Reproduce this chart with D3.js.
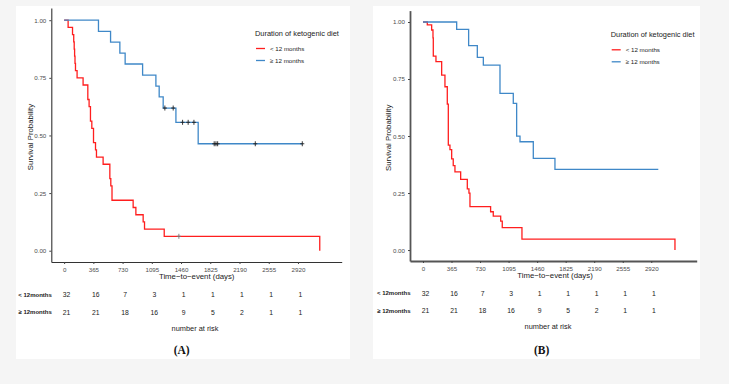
<!DOCTYPE html>
<html>
<head>
<meta charset="utf-8">
<script src="https://cdn.jsdelivr.net/npm/d3@7"></script>
<style>
  body { margin: 0; background: #f5f5f5; }
  svg { display: block; font-family: "Liberation Sans", Arial, sans-serif; }
</style>
</head>
<body>
<div id="chart"></div>
<script>
// groups and risk table
const groupNames = ["< 12 months", "\u2265 12 months"];
const riskRowNames = ["< 12months", "\u2265 12months"];
const riskTimes = [0, 365, 730, 1095, 1460, 1825, 2190, 2555, 2920];
const yTicks = [0, 0.25, 0.5, 0.75, 1];

const riskA_short = [32, 16, 7, 3, 1, 1, 1, 1, 1];
const riskA_long = [21, 21, 18, 16, 9, 5, 2, 1, 1];
const riskB_short = [32, 16, 7, 3, 1, 1, 1, 1, 1];
const riskB_long = [21, 21, 18, 16, 9, 5, 2, 1, 1];

// KM steps [day, survival]
const curveA_short = [[0,1],[50,0.969],[105,0.9375],[120,0.906],[126,0.875],[131,0.844],[136,0.8125],[142,0.781],
  [162,0.75],[237,0.719],[296,0.656],[312,0.625],[329,0.5625],[346,0.531],[367,0.469],[392,0.4375],[404,0.406],
  [487,0.375],[571,0.3125],[583,0.281],[598,0.219],[862,0.1875],[896,0.156],[987,0.125],[1004,0.094],
  [1250,0.0625],[3192,0]];
const curveA_long = [[0,1],[429,0.952],[580,0.905],[696,0.857],[762,0.81],[980,0.762],[1146,0.714],[1187,0.667],
  [1237,0.619],[1396,0.557],[1674,0.464],[2974,0.464]];
const censorA_short = [1433];
const censorA_long = [1258, 1362, 1479, 1549, 1621, 1874, 1896, 1917, 2387, 2974];

const curveB_short = [[0,1],[55,0.987],[111,0.965],[128,0.93],[132,0.85],[166,0.826],[239,0.767],[281,0.716],
  [311,0.64],[324,0.46],[345,0.44],[367,0.40],[387,0.37],[409,0.343],[482,0.31],[567,0.268],[588,0.25],
  [601,0.19],[865,0.168],[899,0.149],[994,0.127],[1014,0.098],[1266,0.048],[3223,0]];
const curveB_long = [[0,1],[431,0.968],[584,0.896],[695,0.845],[772,0.811],[985,0.687],[1155,0.643],[1198,0.5],
  [1241,0.475],[1411,0.402],[1688,0.354],[3010,0.354]];

const colors = ["#ff1e1e", "#3f88c8"];

const svg = d3.select("#chart").append("svg")
  .attr("width", 729)
  .attr("height", 384);

svg.append("rect").attr("width", 729).attr("height", 384).attr("fill", "#f5f5f5");

function survAt(curve, t) {
  let s = 1;
  curve.forEach(function(d) { if (d[0] <= t) s = d[1]; });
  return s;
}

function drawPanel(p) {
  svg.append("rect")
    .attr("x", p.box[0]).attr("y", p.box[1])
    .attr("width", p.box[2]).attr("height", p.box[3])
    .attr("fill", "white");

  const x = d3.scaleLinear().domain(p.xDom).range(p.xRange);
  const y = d3.scaleLinear().domain(p.yDom).range(p.yRange);

  const g = svg.append("g");

  const line = d3.line()
    .x(function(d) { return x(d[0]); })
    .y(function(d) { return y(d[1]); })
    .curve(d3.curveStepAfter);

  p.curves.forEach(function(c, i) {
    g.append("path")
      .datum(c)
      .attr("fill", "none")
      .attr("stroke", colors[i])
      .attr("stroke-width", 1.3)
      .attr("d", line);
  });

  // censor marks
  p.censors.forEach(function(cs, i) {
    cs.forEach(function(t) {
      const s = survAt(p.curves[i], t);
      const col = i == 0 ? "#777" : "#222";
      g.append("line")
        .attr("x1", x(t)).attr("x2", x(t))
        .attr("y1", y(s) - 2.5).attr("y2", y(s) + 2.5)
        .attr("stroke", col)
        .attr("stroke-width", 0.9);
      g.append("line")
        .attr("x1", x(t) - 2).attr("x2", x(t) + 2)
        .attr("y1", y(s)).attr("y2", y(s))
        .attr("stroke", col)
        .attr("stroke-width", 0.9);
    });
  });

  const xAxis = g.append("g")
    .attr("transform", `translate(0,${p.yRange[0]})`)
    .call(d3.axisBottom(x).tickValues(riskTimes).tickFormat(d3.format("d")).tickSize(2).tickSizeOuter(0));
  const yAxis = g.append("g")
    .attr("transform", `translate(${p.xRange[0]},0)`)
    .call(d3.axisLeft(y).tickValues(yTicks).tickFormat(d3.format(".2f")).tickSize(2).tickSizeOuter(0));

  [xAxis, yAxis].forEach(function(a) {
    a.select(".domain").attr("stroke", p.axisColor).attr("stroke-width", p.axisWidth);
    a.selectAll(".tick line").attr("stroke", "#444");
    a.selectAll(".tick text")
      .attr("fill", "#4d4d4d")
      .style("font-size", "6.2px")
      .style("font-family", "Liberation Sans, Arial, sans-serif");
  });
  xAxis.selectAll(".tick text").attr("dy", "0.85em");

  // axis titles
  g.append("text")
    .attr("transform", `translate(${p.yTitleX},${(p.yRange[0] + p.yRange[1]) / 2 + 2}) rotate(-90)`)
    .attr("text-anchor", "middle")
    .style("font-size", "7.8px")
    .attr("fill", "#1a1a1a")
    .text("Survival Probability");

  g.append("text")
    .attr("x", p.xTitle[0]).attr("y", p.xTitle[1])
    .attr("text-anchor", "middle")
    .style("font-size", "7.8px")
    .attr("fill", "#1a1a1a")
    .text("Time\u2212to\u2212event (days)");

  // legend
  g.append("text")
    .attr("x", p.legend[0]).attr("y", p.legend[1])
    .style("font-size", "7.4px")
    .attr("fill", "#1a1a1a")
    .text("Duration of ketogenic diet");
  groupNames.forEach(function(name, i) {
    const ly = p.legend[1] + 12.5 + i * 12;
    g.append("line")
      .attr("x1", p.legend[0] + 1).attr("x2", p.legend[0] + 10)
      .attr("y1", ly).attr("y2", ly)
      .attr("stroke", colors[i]).attr("stroke-width", 1.3);
    g.append("text")
      .attr("x", p.legend[0] + 15).attr("y", ly + 2)
      .style("font-size", "6.2px")
      .attr("fill", "#1a1a1a")
      .text(name);
  });

  // risk table
  p.risks.forEach(function(row, i) {
    const ry = p.riskY[i];
    g.append("text")
      .attr("x", p.xRange[0] + 0.5).attr("y", ry + 2)
      .attr("text-anchor", "end")
      .style("font-size", "6px")
      .style("font-weight", "bold")
      .attr("fill", "#1a1a1a")
      .text(riskRowNames[i]);
    row.forEach(function(n, j) {
      g.append("text")
        .attr("x", x(riskTimes[j]) + 2.5).attr("y", ry + 2.3)
        .attr("text-anchor", "middle")
        .style("font-size", "6.8px")
        .attr("fill", "#1a1a1a")
        .text(n);
    });
  });

  g.append("text")
    .attr("x", p.riskTitle[0]).attr("y", p.riskTitle[1])
    .attr("text-anchor", "middle")
    .style("font-size", "7.4px")
    .attr("fill", "#1a1a1a")
    .text("number at risk");

  g.append("text")
    .attr("x", p.tag[0]).attr("y", p.tag[1])
    .attr("text-anchor", "middle")
    .style("font-family", "Liberation Serif, Times New Roman, serif")
    .style("font-weight", "bold")
    .style("font-size", "11.5px")
    .attr("fill", "#111")
    .text(p.tagText);
}

drawPanel({
  box: [16, 6, 334, 353],
  xDom: [-160, 3466], xRange: [51.3, 341.7],
  yDom: [-0.049, 1.053], yRange: [262, 8],
  axisColor: "#333", axisWidth: 1.1,
  curves: [curveA_short, curveA_long],
  censors: [censorA_short, censorA_long],
  yTitleX: 33,
  xTitle: [196.7, 278.8],
  legend: [255, 36],
  risks: [riskA_short, riskA_long],
  riskY: [295, 312.3],
  riskTitle: [195, 330.5],
  tag: [181.7, 354], tagText: "(A)"
});

drawPanel({
  box: [373, 6, 327, 353],
  xDom: [-166, 3501], xRange: [410, 696.7],
  yDom: [-0.048, 1.05], yRange: [261, 10.6],
  axisColor: "#555", axisWidth: 1.8,
  curves: [curveB_short, curveB_long],
  censors: [[], []],
  yTitleX: 391,
  xTitle: [555, 277.8],
  legend: [610.7, 37.3],
  risks: [riskB_short, riskB_long],
  riskY: [293.3, 310.7],
  riskTitle: [548, 329.2],
  tag: [541.7, 354], tagText: "(B)"
});
</script>
</body>
</html>
